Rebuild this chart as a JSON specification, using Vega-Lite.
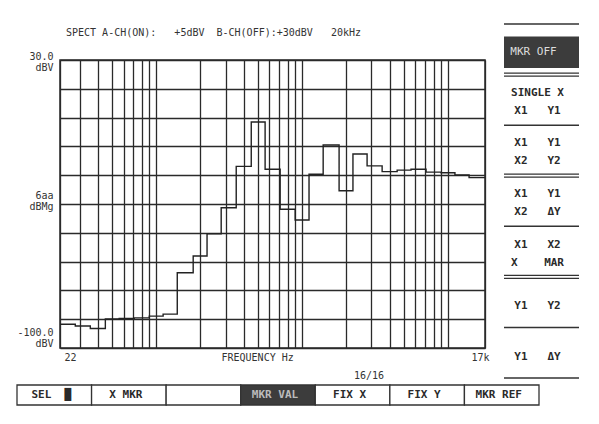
{
  "$schema": "https://vega.github.io/schema/vega-lite/v6.json",
  "background": "white",
  "padding": {"left": 16, "top": 23, "right": 5, "bottom": 5},
  "config": {"view": {"stroke": null}, "font": "DejaVu Sans Mono"},
  "spacing": 0,
  "vconcat": [
    {
      "spacing": 19,
      "bounds": "flush",
      "center": true,
      "hconcat": [
        {
          "width": 24,
          "height": 288,
          "data": {"values": [{"level_dbv": -100}, {"level_dbv": 30}]},
          "mark": {"type": "point", "opacity": 0},
          "encoding": {
            "y": {
              "field": "level_dbv", "type": "quantitative",
              "scale": {"domain": [-100, 30], "nice": false, "zero": false},
              "axis": {
                "orient": "right",
                "values": [30, -35, -100],
                "labelExpr": "datum.value == 30 ? ['30.0','dBV'] : (datum.value == -35 ? ['6aa','dBMg'] : ['-100.0','dBV'])",
                "labelAlign": "right",
                "labelPadding": 12,
                "labelBaseline": "middle",
                "labelOffset": {"condition": [{"test": "datum.value == 30", "value": -4}, {"test": "datum.value == -35", "value": -9}], "value": -16},
                "labelLineHeight": 11.5, "labelOverlap": false,
                "ticks": false, "domain": false, "grid": false,
                "labelFontSize": 10, "labelColor": "#333333", "labelFont": "DejaVu Sans Mono",
                "title": null
              }
            }
          }
        },
        {
          "width": 425,
          "height": 288,
          "view": {"stroke": "#2a2a2a", "strokeWidth": 1.5},
          "title": {
            "text": "SPECT A-CH(ON):\u00a0\u00a0\u00a0+5dBV\u00a0\u00a0B-CH(OFF):+30dBV\u00a0\u00a0\u00a020kHz",
            "anchor": "start", "frame": "group", "dx": 6, "offset": 22,
            "font": "DejaVu Sans Mono", "fontSize": 10, "fontWeight": "normal", "color": "#333333"
          },
          "data": {"values": [
            {"freq_hz": 22, "level_dbv": -89.3},
            {"freq_hz": 28, "level_dbv": -90.1},
            {"freq_hz": 35.5, "level_dbv": -91.2},
            {"freq_hz": 45, "level_dbv": -86.9},
            {"freq_hz": 56, "level_dbv": -86.7},
            {"freq_hz": 71, "level_dbv": -86.4},
            {"freq_hz": 90, "level_dbv": -85.6},
            {"freq_hz": 112, "level_dbv": -84.7},
            {"freq_hz": 140, "level_dbv": -66.0},
            {"freq_hz": 180, "level_dbv": -58.5},
            {"freq_hz": 224, "level_dbv": -48.5},
            {"freq_hz": 280, "level_dbv": -36.7},
            {"freq_hz": 355, "level_dbv": -18.0},
            {"freq_hz": 450, "level_dbv": 2.0},
            {"freq_hz": 560, "level_dbv": -19.3},
            {"freq_hz": 710, "level_dbv": -37.4},
            {"freq_hz": 900, "level_dbv": -42.2},
            {"freq_hz": 1120, "level_dbv": -21.6},
            {"freq_hz": 1400, "level_dbv": -8.4},
            {"freq_hz": 1800, "level_dbv": -29.0},
            {"freq_hz": 2240, "level_dbv": -12.4},
            {"freq_hz": 2800, "level_dbv": -17.8},
            {"freq_hz": 3550, "level_dbv": -20.4},
            {"freq_hz": 4500, "level_dbv": -19.7},
            {"freq_hz": 5600, "level_dbv": -19.3},
            {"freq_hz": 7100, "level_dbv": -20.6},
            {"freq_hz": 9000, "level_dbv": -20.9},
            {"freq_hz": 11200, "level_dbv": -21.9},
            {"freq_hz": 14000, "level_dbv": -23.1},
            {"freq_hz": 18000, "level_dbv": -23.1}
          ]},
          "mark": {"type": "line", "interpolate": "step-after", "color": "#222222", "strokeWidth": 1.4, "clip": true},
          "encoding": {
            "x": {
              "field": "freq_hz", "type": "quantitative",
              "scale": {"type": "log", "domain": [22, 18000], "nice": false},
              "axis": {
                "values": [22, 30, 40, 50, 60, 70, 80, 90, 100, 200, 300, 400, 500, 600, 700, 800, 900, 1000, 2000, 3000, 4000, 5000, 6000, 7000, 8000, 9000, 10000, 18000],
                "labelExpr": "datum.value == 22 ? '22' : (datum.value == 18000 ? '17k' : '')",
                "labelFlush": true, "labelOffset": 4, "labelOverlap": false,
                "ticks": false, "domain": false,
                "grid": true, "gridColor": "#2a2a2a", "gridWidth": 1.3, "gridOpacity": 1,
                "labelPadding": 4, "labelFontSize": 10, "labelColor": "#333333", "labelFont": "DejaVu Sans Mono",
                "title": ["FREQUENCY Hz", "\u200b\u00a0\u00a0\u00a0\u00a0\u00a0\u00a0\u00a0\u00a0\u00a0\u00a0\u00a0\u00a0\u00a0\u00a0\u00a0\u00a0\u00a0\u00a0\u00a0\u00a0\u00a0\u00a016/16"],
                "titleX": 161, "titleY": 4, "titleAlign": "left", "titleBaseline": "top",
                "titleFont": "DejaVu Sans Mono", "titleFontSize": 10, "titleFontWeight": "normal",
                "titleColor": "#333333", "titleLineHeight": 18
              }
            },
            "y": {
              "field": "level_dbv", "type": "quantitative",
              "scale": {"domain": [-100, 30], "nice": false, "zero": false},
              "axis": {
                "values": [30, 17, 4, -9, -22, -35, -48, -61, -74, -87, -100],
                "labels": false, "ticks": false, "domain": false,
                "grid": true, "gridColor": "#2a2a2a", "gridWidth": 1.3, "gridOpacity": 1,
                "title": null
              }
            }
          }
        },
        {
          "width": 75,
          "height": 360,
          "data": {"values": [
            {"sec": 1, "txt": "MKR OFF", "top": "single"},
            {"sec": 2, "txt": "SINGLE X\nX1\u00a0\u00a0\u00a0Y1", "top": "double"},
            {"sec": 3, "txt": "X1\u00a0\u00a0\u00a0Y1\nX2\u00a0\u00a0\u00a0Y2", "top": "single"},
            {"sec": 4, "txt": "X1\u00a0\u00a0\u00a0Y1\nX2\u00a0\u00a0\u00a0ΔY", "top": "double"},
            {"sec": 5, "txt": "X1\u00a0\u00a0\u00a0X2\nX\u00a0\u00a0\u00a0\u00a0MAR", "top": "single"},
            {"sec": 6, "txt": "Y1\u00a0\u00a0\u00a0Y2", "top": "double"},
            {"sec": 7, "txt": "Y1\u00a0\u00a0\u00a0ΔY", "top": "single"}
          ]},
          "layer": [
            {
              "transform": [{"filter": "datum.sec == 1"}],
              "mark": {"type": "bar", "height": {"band": 0.62}, "yOffset": 3, "color": "#3c3c3c"},
              "encoding": {"y": {"field": "sec", "type": "ordinal", "scale": {"paddingInner": 0, "paddingOuter": 0.0593, "align": 0}, "axis": null}}
            },
            {
              "transform": [{"filter": "datum.top == 'single'"}],
              "mark": {"type": "rule", "color": "#333333", "strokeWidth": 1.5},
              "encoding": {"y": {"field": "sec", "type": "ordinal", "bandPosition": 0, "scale": {"paddingInner": 0, "paddingOuter": 0.0593, "align": 0}, "axis": null}}
            },
            {
              "transform": [{"filter": "datum.top == 'double'"}],
              "mark": {"type": "rule", "color": "#333333", "strokeWidth": 1.2, "yOffset": 1.5},
              "encoding": {"y": {"field": "sec", "type": "ordinal", "bandPosition": 0, "scale": {"paddingInner": 0, "paddingOuter": 0.0593, "align": 0}, "axis": null}}
            },
            {
              "transform": [{"filter": "datum.top == 'double'"}],
              "mark": {"type": "rule", "color": "#333333", "strokeWidth": 1.2, "yOffset": -1.5},
              "encoding": {"y": {"field": "sec", "type": "ordinal", "bandPosition": 0, "scale": {"paddingInner": 0, "paddingOuter": 0.0593, "align": 0}, "axis": null}}
            },
            {
              "transform": [{"filter": "datum.sec == 7"}],
              "mark": {"type": "rule", "color": "#333333", "strokeWidth": 1.5},
              "encoding": {"y": {"field": "sec", "type": "ordinal", "bandPosition": 1, "scale": {"paddingInner": 0, "paddingOuter": 0.0593, "align": 0}, "axis": null}}
            },
            {
              "transform": [{"filter": "datum.sec >= 2 && datum.sec <= 5"}],
              "mark": {"type": "text", "font": "DejaVu Sans Mono", "fontSize": 11, "fontWeight": "bold", "lineBreak": "\n", "lineHeight": 18, "baseline": "middle", "dy": -7, "dx": -4, "color": "#2a2a2a"},
              "encoding": {
                "y": {"field": "sec", "type": "ordinal", "scale": {"paddingInner": 0, "paddingOuter": 0.0593, "align": 0}, "axis": null},
                "text": {"field": "txt"}
              }
            },
            {
              "transform": [{"filter": "datum.sec >= 6"}],
              "mark": {"type": "text", "font": "DejaVu Sans Mono", "fontSize": 11, "fontWeight": "bold", "baseline": "middle", "dy": 4, "dx": -4, "color": "#2a2a2a"},
              "encoding": {
                "y": {"field": "sec", "type": "ordinal", "scale": {"paddingInner": 0, "paddingOuter": 0.0593, "align": 0}, "axis": null},
                "text": {"field": "txt"}
              }
            },
            {
              "transform": [{"filter": "datum.sec == 1"}],
              "mark": {"type": "text", "font": "DejaVu Sans Mono", "fontSize": 11, "fontWeight": "normal", "baseline": "middle", "dy": 3, "dx": -8, "color": "#dddddd"},
              "encoding": {
                "y": {"field": "sec", "type": "ordinal", "scale": {"paddingInner": 0, "paddingOuter": 0.0593, "align": 0}, "axis": null},
                "text": {"field": "txt"}
              }
            }
          ]
        }
      ]
    },
    {
      "width": 522,
      "height": 20,
      "data": {"values": [
        {"slot": 1, "label": "SEL\u00a0\u00a0█", "active": false},
        {"slot": 2, "label": "X MKR", "active": false},
        {"slot": 3, "label": "", "active": false},
        {"slot": 4, "label": "MKR VAL", "active": true},
        {"slot": 5, "label": "FIX X", "active": false},
        {"slot": 6, "label": "FIX Y", "active": false},
        {"slot": 7, "label": "MKR REF", "active": false}
      ]},
      "encoding": {"x": {"field": "slot", "type": "ordinal", "scale": {"paddingInner": 0, "paddingOuter": 0}, "axis": null}},
      "layer": [
        {
          "mark": {"type": "bar", "stroke": "#333333", "strokeWidth": 1.3},
          "encoding": {"fill": {"condition": {"test": "datum.active", "value": "#3c3c3c"}, "value": "white"}}
        },
        {
          "mark": {"type": "text", "font": "DejaVu Sans Mono", "fontSize": 11, "fontWeight": "bold", "baseline": "middle", "dx": -3},
          "encoding": {
            "text": {"field": "label"},
            "color": {"condition": {"test": "datum.active", "value": "#bbbbbb"}, "value": "#2a2a2a"}
          }
        }
      ]
    }
  ]
}
